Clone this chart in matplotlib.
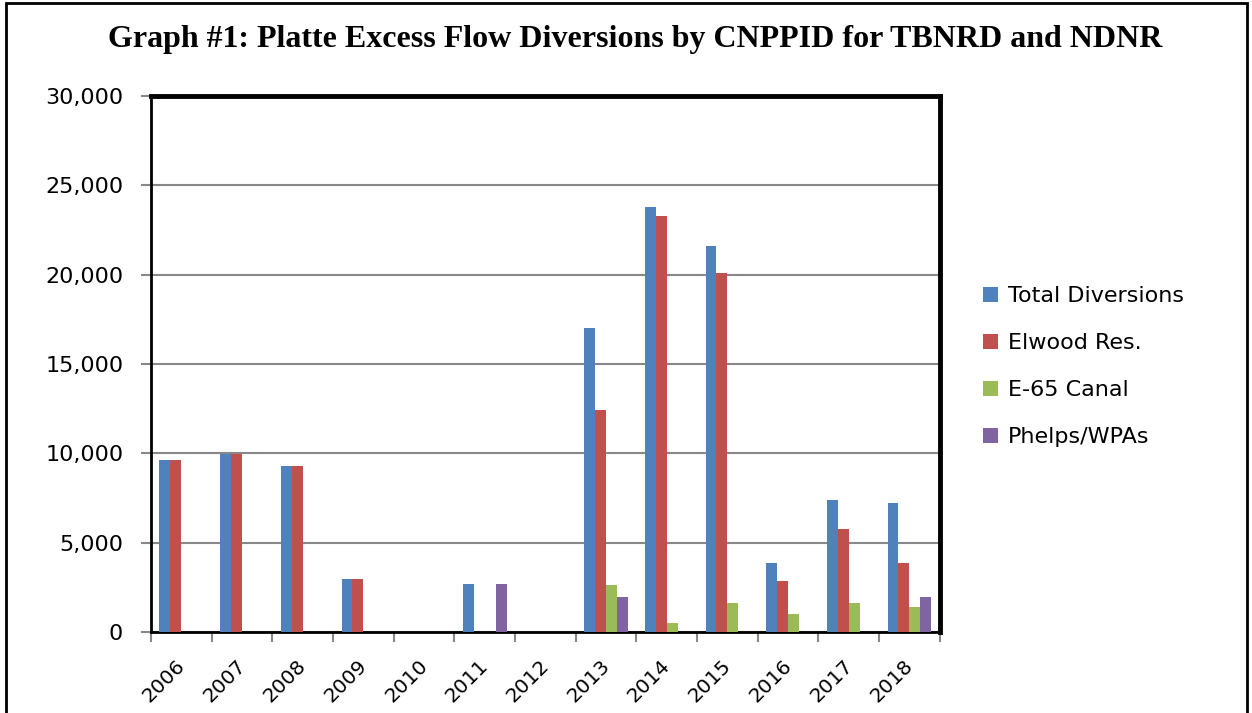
import numpy as np
import matplotlib.pyplot as plt
import matplotlib.transforms as mtransforms
from matplotlib.patches import Rectangle
from matplotlib.ticker import FuncFormatter, MultipleLocator

years = ["2006", "2007", "2008", "2009", "2010", "2011", "2012",
         "2013", "2014", "2015", "2016", "2017", "2018"]
total = [9600, 9950, 9300, 2950, 0, 2700, 0, 17000, 23800, 21600, 3850, 7400, 7200]
elwood = [9600, 9950, 9300, 2950, 0, 0, 0, 12400, 23300, 20100, 2850, 5750, 3850]
e65 = [0, 0, 0, 0, 0, 0, 0, 2650, 500, 1650, 1000, 1650, 1400]
phelps = [0, 0, 0, 0, 0, 2700, 0, 1950, 0, 0, 0, 0, 1950]

series = [("Total Diversions", total, "#4F81BD"),
          ("Elwood Res.", elwood, "#C0504D"),
          ("E-65 Canal", e65, "#9BBB59"),
          ("Phelps/WPAs", phelps, "#8064A2")]

fig = plt.figure(figsize=(12.52, 7.13), dpi=100)
ax = fig.add_axes([0.1206, 0.1136, 0.630, 0.7518])

x = np.arange(len(years))
w = 0.18
for i, (name, vals, col) in enumerate(series):
    ax.bar(x + (i - 1.5) * w, vals, width=w, color=col, label=name,
           edgecolor="none", zorder=3)

ax.set_xlim(-0.5, len(years) - 0.5)
ax.set_ylim(0, 30000)
ax.yaxis.set_major_locator(MultipleLocator(5000))
ax.yaxis.set_major_formatter(FuncFormatter(lambda v, p: f"{int(v):,}"))
ax.grid(axis="y", color="#888888", linewidth=1.5, zorder=0)

ax.set_xticks(x)
ax.set_xticklabels(years, rotation=45, fontsize=14.5, ha="right", va="top",
                   rotation_mode="anchor")
ax.set_xticks(np.arange(-0.5, len(years)), minor=True)
ax.tick_params(axis="x", which="major", length=0, pad=17)
ax.tick_params(axis="x", which="minor", length=7, color="#888888", width=1.5)
ax.tick_params(axis="y", length=7, color="#888888", width=1.5, labelsize=16, pad=13)

# nudge the year labels a little left, like the original
shift = mtransforms.ScaledTranslation(-6 / 100, 0, fig.dpi_scale_trans)
for lab in ax.get_xticklabels():
    lab.set_transform(lab.get_transform() + shift)

for s in ["top", "right"]:
    ax.spines[s].set_linewidth(3.5)
ax.spines["left"].set_linewidth(2)
ax.spines["bottom"].set_linewidth(2)
for s in ax.spines.values():
    s.set_color("black")

fig.text(0.507, 0.945, "Graph #1: Platte Excess Flow Diversions by CNPPID for TBNRD and NDNR",
         ha="center", va="center", fontsize=23, fontweight="bold",
         family="Liberation Serif")

ax.legend(loc="center left", bbox_to_anchor=(1.029, 0.495), frameon=False,
          fontsize=16, handlelength=0.68, handleheight=0.68, labelspacing=1.22,
          handletextpad=0.45)

fig.patches.append(Rectangle((6 / 1252, -0.05), 1241 / 1252, 1.05 - 3 / 713,
                             transform=fig.transFigure, fill=False,
                             edgecolor="black", linewidth=2))

fig.savefig("out.png", dpi=100)
